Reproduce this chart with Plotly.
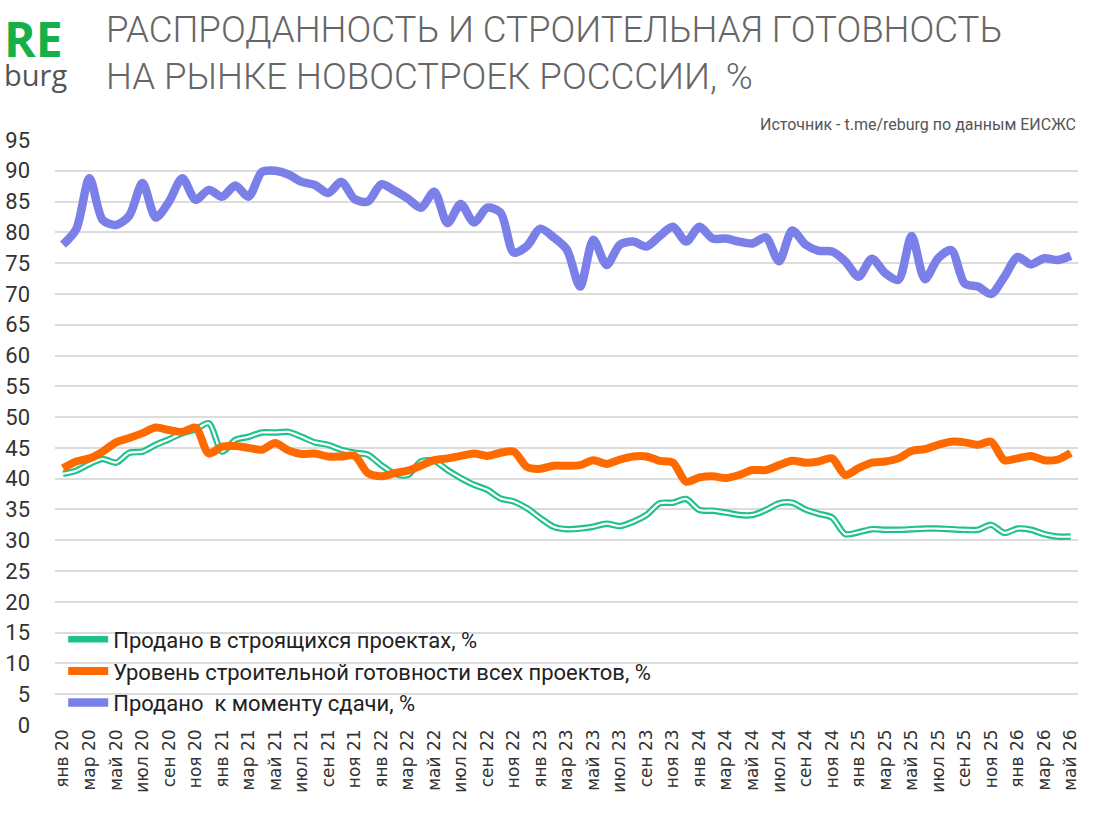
import plotly.graph_objects as go

tick_labels = [
    "янв 20", "мар 20", "май 20", "июл 20", "сен 20", "ноя 20",
    "янв 21", "мар 21", "май 21", "июл 21", "сен 21", "ноя 21",
    "янв 22", "мар 22", "май 22", "июл 22", "сен 22", "ноя 22",
    "янв 23", "мар 23", "май 23", "июл 23", "сен 23", "ноя 23",
    "янв 24", "мар 24", "май 24", "июл 24", "сен 24", "ноя 24",
    "янв 25", "мар 25", "май 25", "июл 25", "сен 25", "ноя 25",
    "янв 26", "мар 26", "май 26",
]

# monthly index: 0 = янв 20 ... 76 = май 26
months = list(range(77))

sold_at_delivery = [
    78.0, 80.5, 88.8, 82.0, 81.2, 82.7, 88.0, 82.4, 85.0, 88.8,
    85.3, 86.9, 85.8, 87.6, 85.8, 89.8, 90.0, 89.4, 88.2, 87.7,
    86.4, 88.2, 85.4, 85.0, 87.8, 86.8, 85.5, 84.0, 86.6, 81.5,
    84.6, 81.6, 84.0, 83.2, 76.7, 77.8, 80.6, 79.2, 77.2, 71.2,
    78.8, 74.7, 78.0, 78.5, 77.7, 79.4, 80.9, 78.5, 80.9, 79.0,
    79.0, 78.5, 78.2, 79.2, 75.3, 80.3, 78.0, 77.0, 76.9, 75.3,
    72.8, 75.7, 73.4, 72.3, 79.4, 72.4, 75.8, 77.1, 71.7, 71.2,
    70.0, 72.8, 76.0, 74.8, 75.8, 75.5, 76.2,
]

construction_ready = [
    41.7, 42.8, 43.3, 44.4, 45.9, 46.6, 47.4, 48.3, 47.9, 47.6,
    48.3, 44.1, 45.2, 45.3, 45.0, 44.7, 45.8, 44.6, 44.0, 44.1,
    43.6, 43.6, 43.7, 40.9, 40.4, 40.9, 41.3, 42.1, 43.0, 43.3,
    43.7, 44.1, 43.7, 44.2, 44.4, 41.9, 41.6, 42.1, 42.1, 42.2,
    43.0, 42.4, 43.1, 43.6, 43.6, 42.9, 42.6, 39.5, 40.2, 40.4,
    40.1, 40.6, 41.4, 41.4, 42.2, 42.9, 42.6, 42.8, 43.3, 40.6,
    41.7, 42.6, 42.8, 43.3, 44.5, 44.8, 45.5, 46.0, 45.9, 45.5,
    46.0, 43.0, 43.3, 43.7, 43.0, 43.1, 44.2,
]

sold_under_construction = [
    40.8, 41.3, 42.4, 43.2, 42.6, 44.2, 44.4, 45.5, 46.4, 47.4,
    48.0, 49.0, 44.4, 46.3, 46.8, 47.5, 47.5, 47.6, 46.8, 45.9,
    45.5, 44.7, 44.2, 43.9, 42.2, 40.8, 40.6, 42.8, 42.9, 41.4,
    40.1, 39.0, 38.2, 36.8, 36.3, 35.2, 33.6, 32.2, 31.8, 31.9,
    32.2, 32.7, 32.3, 33.0, 34.1, 36.0, 36.1, 36.7, 34.9, 34.8,
    34.5, 34.1, 34.1, 34.9, 36.0, 36.1, 35.0, 34.3, 33.7, 31.0,
    31.3, 31.8, 31.7, 31.7, 31.8, 31.9, 31.9, 31.8, 31.7, 31.7,
    32.5, 31.2, 31.9, 31.7, 31.0, 30.6, 30.6,
]

GREEN = "#1fc28c"
ORANGE = "#ff6a00"
PURPLE = "#7a80e8"
FONT = "Roboto, sans-serif"

fig = go.Figure()
fig.add_trace(go.Scatter(
    x=months, y=sold_under_construction, mode="lines",
    name="Продано в строящихся проектах, %",
    line=dict(color=GREEN, width=6.5, shape="spline", smoothing=0.8),
    legendgroup="g",
))
fig.add_trace(go.Scatter(
    x=months, y=sold_under_construction, mode="lines",
    showlegend=False, hoverinfo="skip",
    line=dict(color="white", width=2.2, shape="spline", smoothing=0.8),
    legendgroup="g",
))
fig.add_trace(go.Scatter(
    x=months, y=construction_ready, mode="lines",
    name="Уровень строительной готовности всех проектов, %",
    line=dict(color=ORANGE, width=8, shape="spline", smoothing=0.8),
))
fig.add_trace(go.Scatter(
    x=months, y=sold_at_delivery, mode="lines",
    name="Продано  к моменту сдачи, %",
    line=dict(color=PURPLE, width=8.5, shape="spline", smoothing=0.8),
))

W, H = 1093, 816
pl, pr, pt, pb = 55, 15, 140, 91
pw, ph = W - pl - pr, H - pt - pb


def px(x):
    return (x - pl) / pw


def py(y):
    return (H - pb - y) / ph


fig.update_layout(
    width=W, height=H,
    margin=dict(l=pl, r=pr, t=pt, b=pb, autoexpand=False),
    paper_bgcolor="white", plot_bgcolor="white",
    showlegend=True,
    legend=dict(
        x=0.008, y=0.182, xanchor="left", yanchor="top",
        bgcolor="rgba(0,0,0,0)",
        font=dict(family=FONT, size=22, color="#222"),
        itemwidth=40, tracegroupgap=0,
    ),
    xaxis=dict(
        range=[-0.6, 76.55],
        tickmode="array",
        tickvals=months[::2],
        ticktext=tick_labels,
        tickangle=-90,
        tickfont=dict(family="DejaVu Sans", size=17, color="#333"),
        showgrid=False, zeroline=False, showline=False,
        ticks="", automargin=False,
    ),
    yaxis=dict(
        range=[0, 95],
        tickmode="array",
        tickvals=list(range(0, 96, 5)),
        tickfont=dict(family=FONT, size=22, color="#333"),
        showgrid=True, gridcolor="#dcdcdc", gridwidth=2,
        zeroline=False, showline=False, ticks="",
        ticklabelstandoff=24, automargin=False,
    ),
)

logo = ('<span style="font-size:48px;color:#16b04a"><b>RE</b></span><br>'
        '<span style="font-size:29px;color:#555">burg</span>')
fig.add_annotation(text=logo, x=px(2), y=py(4), xref="paper", yref="paper",
                   xanchor="left", yanchor="top", align="left", showarrow=False,
                   font=dict(family="Open Sans", size=22, color="#555"))
fig.add_annotation(text="РАСПРОДАННОСТЬ И СТРОИТЕЛЬНАЯ ГОТОВНОСТЬ", x=px(104), y=py(6),
                   xref="paper", yref="paper", xanchor="left", yanchor="top", showarrow=False,
                   font=dict(family="Roboto", size=36.6, color="#666", weight=300))
fig.add_annotation(text="НА РЫНКЕ НОВОСТРОЕК РОСССИИ, %", x=px(104), y=py(53),
                   xref="paper", yref="paper", xanchor="left", yanchor="top", showarrow=False,
                   font=dict(family="Roboto", size=36.6, color="#666", weight=300))
fig.add_annotation(text="Источник - t.me/reburg по данным ЕИСЖС", x=px(1078), y=py(113),
                   xref="paper", yref="paper", xanchor="right", yanchor="top", showarrow=False,
                   font=dict(family=FONT, size=16, color="#555"))

fig.write_html("out.html")
